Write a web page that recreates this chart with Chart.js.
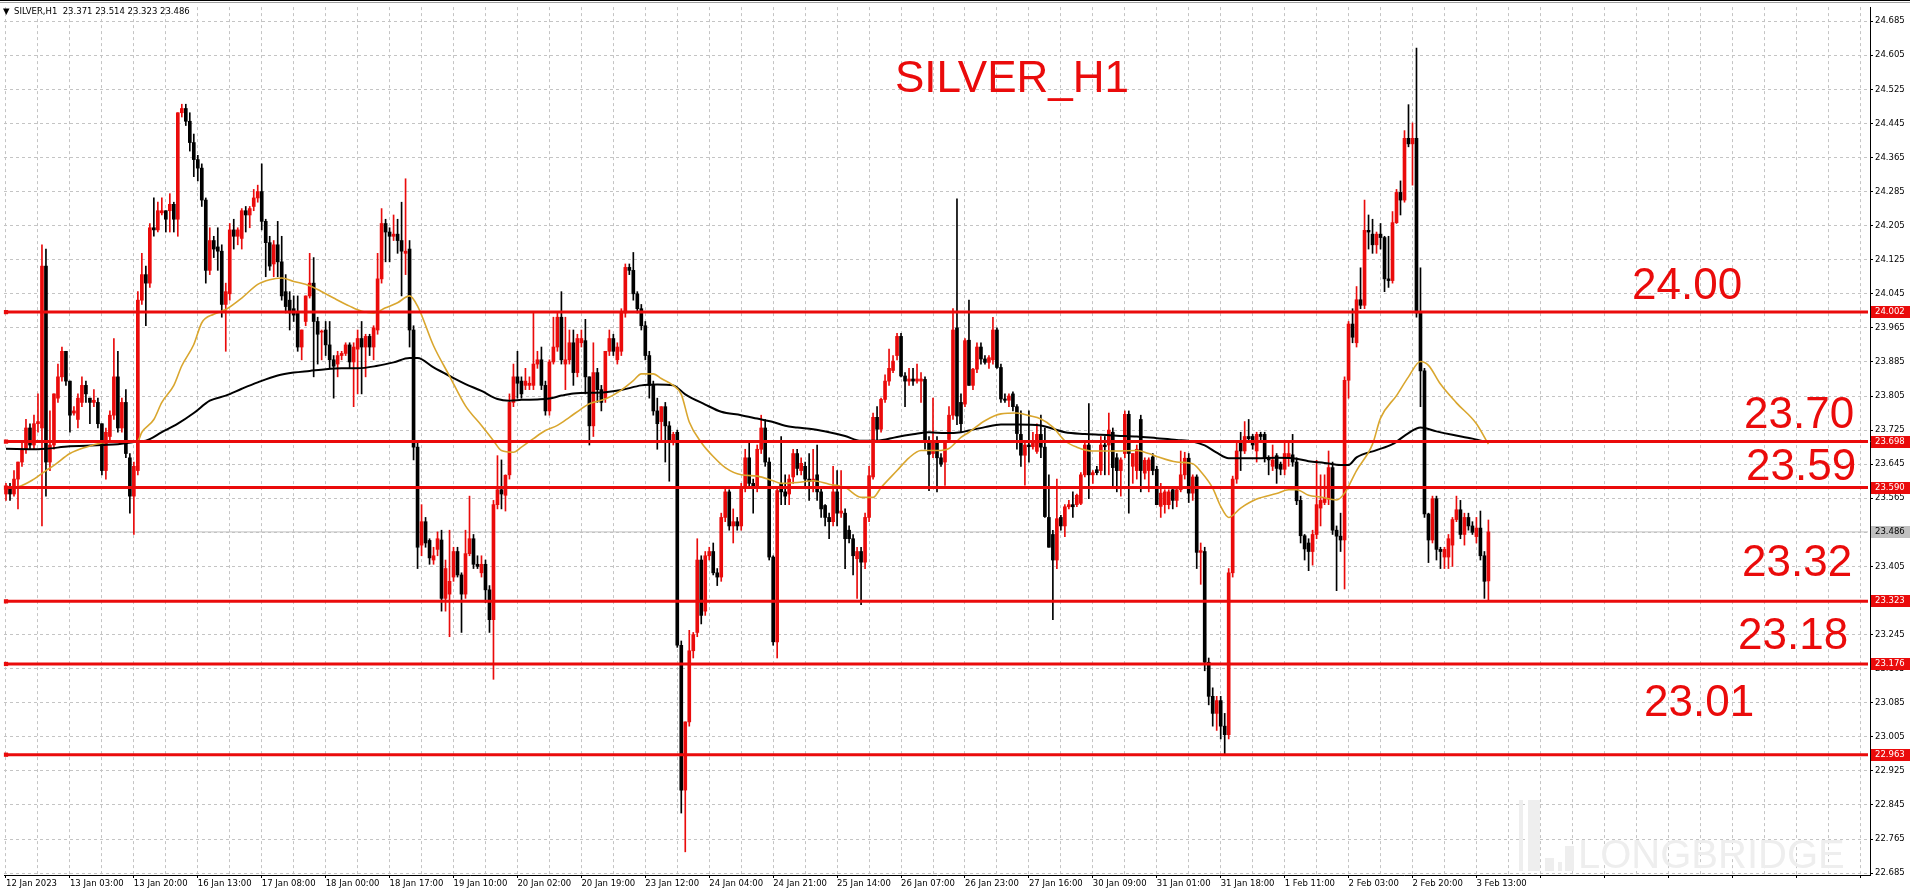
<!DOCTYPE html>
<html>
<head>
<meta charset="utf-8">
<script src="https://cdn.jsdelivr.net/npm/chart.js@4.4.0/dist/chart.umd.min.js"></script>
<style>
  html, body { margin: 0; padding: 0; background: #fff; overflow: hidden; }
  #wrap { width: 1910px; height: 893px; }
</style>
</head>
<body>
<div id="wrap"><canvas id="chart" width="1910" height="893"></canvas></div>
<script>
// x axis captions, one every 16 hourly bars
const timeLabels = ['12 Jan 2023', '13 Jan 03:00', '13 Jan 20:00', '16 Jan 13:00', '17 Jan 08:00', '18 Jan 00:00',
  '18 Jan 17:00', '19 Jan 10:00', '20 Jan 02:00', '20 Jan 19:00', '23 Jan 12:00', '24 Jan 04:00', '24 Jan 21:00',
  '25 Jan 14:00', '26 Jan 07:00', '26 Jan 23:00', '27 Jan 16:00', '30 Jan 09:00', '31 Jan 01:00', '31 Jan 18:00',
  '1 Feb 11:00', '2 Feb 03:00', '2 Feb 20:00', '3 Feb 13:00'];

const priceTicks = [24.685, 24.605, 24.525, 24.445, 24.365, 24.285, 24.205, 24.125, 24.045, 23.965, 23.885, 23.805,
  23.725, 23.645, 23.565, 23.485, 23.405, 23.325, 23.245, 23.165, 23.085, 23.005, 22.925, 22.845, 22.765, 22.685];

const levels = [24.002, 23.698, 23.590, 23.323, 23.176, 22.963];
const levelNames = ['24.00', '23.70', '23.59', '23.32', '23.18', '23.01'];
const bidPrice = 23.486;

// hourly candles, 12 Jan 2023 .. 3 Feb 2023 16:00
const opens = [
  23.575, 23.59, 23.575, 23.61, 23.65, 23.68, 23.73, 23.69, 23.74, 23.73,
  24.11, 23.65, 23.69, 23.80, 23.85, 23.91, 23.84, 23.765, 23.75, 23.79,
  23.83, 23.80, 23.79, 23.79, 23.74, 23.63, 23.71, 23.76, 23.85, 23.73,
  23.79, 23.66, 23.57, 23.63, 24.03, 24.09, 24.07, 24.20, 24.195, 24.235,
  24.24, 24.24, 24.255, 24.22, 24.47, 24.48, 24.45, 24.40, 24.36, 24.34,
  24.265, 24.10, 24.17, 24.155, 24.145, 24.02, 24.045, 24.195, 24.18, 24.175,
  24.24, 24.23, 24.25, 24.27, 24.285, 24.215, 24.165, 24.115, 24.16, 24.12,
  24.05, 24.03, 24.01, 24.00, 23.92, 23.98, 24.04, 24.07, 23.98, 23.955,
  23.96, 23.925, 23.89, 23.88, 23.90, 23.905, 23.925, 23.885, 23.915, 23.94,
  23.92, 23.945, 23.92, 23.96, 24.08, 24.21, 24.19, 24.18, 24.185, 24.17,
  24.14, 24.15, 23.96, 23.685, 23.455, 23.51, 23.466, 23.42, 23.445, 23.467,
  23.33, 23.34, 23.38, 23.44, 23.385, 23.34, 23.435, 23.47, 23.41, 23.39,
  23.41, 23.35, 23.28, 23.55, 23.585, 23.572, 23.62, 23.79, 23.85, 23.84,
  23.83, 23.83, 23.83, 23.88, 23.89, 23.83, 23.77, 23.885, 23.92, 23.99,
  23.88, 23.89, 23.93, 23.86, 23.93, 23.935, 23.85, 23.735, 23.86, 23.82,
  23.80, 23.91, 23.94, 23.89, 23.91, 24.00, 24.107, 24.10, 24.045, 24.01,
  23.97, 23.90, 23.83, 23.77, 23.745, 23.78, 23.735, 23.70, 23.72, 23.22,
  22.88, 23.04, 23.207, 23.25, 23.42, 23.30, 23.43, 23.44, 23.39, 23.38,
  23.52, 23.58, 23.50, 23.51, 23.50, 23.59, 23.66, 23.60, 23.59, 23.68,
  23.73, 23.65, 23.427, 23.228, 23.60, 23.58, 23.575, 23.615, 23.67, 23.63,
  23.64, 23.61, 23.605, 23.62, 23.58, 23.548, 23.52, 23.51, 23.58, 23.53,
  23.53, 23.49, 23.47, 23.423, 23.44, 23.415, 23.52, 23.615, 23.755, 23.727,
  23.797, 23.84, 23.865, 23.90, 23.945, 23.852, 23.84, 23.845, 23.84, 23.84,
  23.844, 23.70, 23.67, 23.70, 23.66, 23.65, 23.703, 23.76, 23.965, 23.79,
  23.786, 23.936, 23.83, 23.868, 23.92, 23.892, 23.884, 23.89, 23.96, 23.872,
  23.798, 23.795, 23.81, 23.78, 23.715, 23.666, 23.69, 23.686, 23.675, 23.715,
  23.685, 23.52, 23.48, 23.42, 23.52, 23.50, 23.545, 23.55, 23.55, 23.553,
  23.62, 23.69, 23.62, 23.632, 23.63, 23.69, 23.69, 23.72, 23.66, 23.63,
  23.67, 23.762, 23.64, 23.63, 23.75, 23.624, 23.63, 23.662, 23.633, 23.546,
  23.55, 23.55, 23.585, 23.56, 23.585, 23.62, 23.659, 23.577, 23.615, 23.438,
  23.44, 23.18, 23.10, 23.06, 23.09, 23.03, 23.01, 23.39, 23.61, 23.70,
  23.676, 23.71, 23.71, 23.676, 23.715, 23.715, 23.66, 23.64, 23.665, 23.645,
  23.633, 23.66, 23.667, 23.65, 23.56, 23.477, 23.46, 23.44, 23.48, 23.542,
  23.555, 23.563, 23.637, 23.49, 23.476, 23.467, 23.842, 23.974, 23.93, 24.031,
  24.018, 24.194, 24.185, 24.16, 24.185, 24.177, 24.08, 24.076, 24.212, 24.283,
  24.265, 24.41, 24.397, 24.41, 24.00, 23.864, 23.528, 23.467, 23.564, 23.445,
  23.427, 23.427, 23.455, 23.515, 23.538, 23.48, 23.52, 23.50, 23.475, 23.495,
  23.43, 23.371
];
const highs = [
  23.60, 23.60, 23.63, 23.65, 23.70, 23.75, 23.74, 23.76, 23.81, 24.16,
  24.15, 23.77, 23.81, 23.88, 23.92, 23.91, 23.84, 23.78, 23.81, 23.85,
  23.84, 23.80, 23.82, 23.80, 23.74, 23.73, 23.77, 23.94, 23.91, 23.80,
  23.82, 23.67, 23.65, 24.05, 24.14, 24.11, 24.21, 24.27, 24.26, 24.27,
  24.24, 24.28, 24.26, 24.47, 24.49, 24.49, 24.47, 24.42, 24.37, 24.35,
  24.27, 24.20, 24.18, 24.20, 24.16, 24.07, 24.21, 24.22, 24.20, 24.245,
  24.25, 24.25, 24.29, 24.30, 24.35, 24.22, 24.18, 24.17, 24.215, 24.18,
  24.09, 24.05, 24.04, 24.04, 23.96, 24.04, 24.14, 24.13, 23.99, 23.96,
  23.98, 23.98, 23.90, 23.91, 23.91, 23.93, 23.93, 23.93, 23.96, 23.98,
  23.95, 23.95, 23.97, 24.14, 24.245, 24.22, 24.20, 24.23, 24.22, 24.26,
  24.315, 24.17, 23.97, 23.70, 23.55, 23.52, 23.47, 23.45, 23.486, 23.49,
  23.42, 23.49, 23.45, 23.45, 23.39, 23.49, 23.57, 23.48, 23.43, 23.43,
  23.42, 23.36, 23.56, 23.665, 23.655, 23.62, 23.81, 23.88, 23.91, 23.85,
  23.87, 23.85, 24.00, 23.91, 23.92, 23.84, 23.89, 23.99, 24.00, 24.05,
  23.99, 23.96, 23.96, 23.95, 23.96, 23.985, 23.85, 23.93, 23.87, 23.83,
  23.91, 23.96, 23.95, 23.93, 24.01, 24.115, 24.115, 24.142, 24.05, 24.02,
  23.98, 23.91, 23.84, 23.80, 23.78, 23.79, 23.745, 23.72, 23.725, 23.23,
  23.04, 23.255, 23.25, 23.47, 23.43, 23.44, 23.45, 23.46, 23.40, 23.53,
  23.59, 23.585, 23.54, 23.52, 23.60, 23.68, 23.70, 23.61, 23.69, 23.76,
  23.75, 23.66, 23.43, 23.59, 23.71, 23.62, 23.62, 23.68, 23.68, 23.66,
  23.65, 23.67, 23.68, 23.69, 23.59, 23.55, 23.53, 23.64, 23.63, 23.63,
  23.54, 23.50, 23.48, 23.45, 23.45, 23.53, 23.64, 23.765, 23.78, 23.80,
  23.855, 23.915, 23.90, 23.952, 23.952, 23.86, 23.87, 23.87, 23.88, 23.86,
  23.85, 23.71, 23.80, 23.71, 23.67, 23.70, 23.78, 24.01, 24.268, 23.81,
  23.94, 24.03, 23.87, 23.93, 23.93, 23.90, 23.90, 23.99, 23.965, 23.88,
  23.81, 23.81, 23.815, 23.785, 23.77, 23.70, 23.77, 23.72, 23.74, 23.76,
  23.73, 23.62, 23.49, 23.61, 23.525, 23.55, 23.56, 23.58, 23.575, 23.625,
  23.695, 23.787, 23.63, 23.64, 23.71, 23.71, 23.765, 23.73, 23.67, 23.66,
  23.77, 23.77, 23.67, 23.69, 23.76, 23.66, 23.66, 23.67, 23.64, 23.60,
  23.585, 23.585, 23.59, 23.59, 23.676, 23.673, 23.67, 23.62, 23.62, 23.46,
  23.45, 23.19, 23.12, 23.10, 23.10, 23.06, 23.40, 23.617, 23.694, 23.72,
  23.745, 23.75, 23.715, 23.72, 23.72, 23.72, 23.665, 23.69, 23.67, 23.65,
  23.70, 23.70, 23.715, 23.66, 23.57, 23.48, 23.47, 23.49, 23.654, 23.62,
  23.62, 23.676, 23.65, 23.50, 23.53, 23.85, 23.98, 24.01, 24.062, 24.106,
  24.265, 24.23, 24.22, 24.19, 24.21, 24.18, 24.18, 24.238, 24.29, 24.31,
  24.428, 24.489, 24.446, 24.622, 24.106, 23.87, 23.53, 23.57, 23.57, 23.45,
  23.45, 23.48, 23.52, 23.57, 23.56, 23.53, 23.53, 23.51, 23.52, 23.535,
  23.44, 23.514
];
const lows = [
  23.56, 23.56, 23.57, 23.54, 23.64, 23.67, 23.68, 23.68, 23.72, 23.50,
  23.57, 23.63, 23.68, 23.79, 23.84, 23.83, 23.72, 23.76, 23.73, 23.78,
  23.79, 23.74, 23.78, 23.73, 23.62, 23.61, 23.70, 23.75, 23.72, 23.72,
  23.66, 23.53, 23.48, 23.62, 24.02, 23.97, 24.06, 24.18, 24.19, 24.23,
  24.19, 24.19, 24.19, 24.18, 24.46, 24.44, 24.38, 24.32, 24.31, 24.25,
  24.07, 24.09, 24.13, 24.10, 23.99, 23.91, 24.03, 24.15, 24.16, 24.15,
  24.19, 24.20, 24.24, 24.26, 24.195, 24.085, 24.10, 24.085, 24.085, 24.03,
  24.00, 23.96, 23.98, 23.91, 23.89, 23.97, 24.035, 23.85, 23.88, 23.89,
  23.90, 23.87, 23.80, 23.85, 23.89, 23.90, 23.87, 23.78, 23.81, 23.81,
  23.85, 23.90, 23.89, 23.95, 24.07, 24.12, 24.12, 24.17, 24.14, 24.04,
  24.09, 23.92, 23.655, 23.40, 23.43, 23.45, 23.41, 23.41, 23.43, 23.30,
  23.30, 23.24, 23.37, 23.38, 23.25, 23.33, 23.43, 23.40, 23.40, 23.38,
  23.32, 23.25, 23.14, 23.54, 23.54, 23.535, 23.61, 23.78, 23.80, 23.80,
  23.82, 23.82, 23.82, 23.87, 23.82, 23.76, 23.76, 23.88, 23.91, 23.88,
  23.82, 23.88, 23.83, 23.85, 23.92, 23.81, 23.69, 23.71, 23.79, 23.77,
  23.79, 23.90, 23.90, 23.88, 23.90, 23.99, 24.09, 24.03, 24.00, 23.96,
  23.89, 23.80, 23.76, 23.68, 23.70, 23.65, 23.605, 23.69, 23.215, 22.826,
  22.735, 23.03, 23.19, 23.24, 23.27, 23.29, 23.42, 23.385, 23.36, 23.37,
  23.51, 23.49, 23.46, 23.49, 23.49, 23.58, 23.59, 23.53, 23.58, 23.67,
  23.64, 23.42, 23.22, 23.19, 23.55, 23.55, 23.55, 23.60, 23.62, 23.62,
  23.59, 23.56, 23.58, 23.56, 23.52, 23.50, 23.47, 23.50, 23.50, 23.52,
  23.40, 23.46, 23.385, 23.33, 23.315, 23.40, 23.51, 23.61, 23.70, 23.72,
  23.79, 23.83, 23.86, 23.89, 23.85, 23.78, 23.83, 23.83, 23.835, 23.79,
  23.68, 23.583, 23.66, 23.58, 23.64, 23.595, 23.70, 23.75, 23.738, 23.72,
  23.78, 23.83, 23.82, 23.86, 23.88, 23.88, 23.87, 23.88, 23.87, 23.79,
  23.79, 23.78, 23.77, 23.68, 23.64, 23.596, 23.65, 23.68, 23.67, 23.66,
  23.52, 23.45, 23.28, 23.40, 23.49, 23.475, 23.54, 23.52, 23.545, 23.55,
  23.615, 23.564, 23.60, 23.62, 23.62, 23.62, 23.62, 23.59, 23.58, 23.57,
  23.66, 23.53, 23.60, 23.61, 23.58, 23.61, 23.58, 23.62, 23.55, 23.52,
  23.53, 23.54, 23.54, 23.545, 23.58, 23.61, 23.555, 23.56, 23.40, 23.363,
  23.16, 23.08, 23.03, 23.02, 23.00, 22.963, 23.00, 23.38, 23.60, 23.63,
  23.67, 23.70, 23.68, 23.65, 23.70, 23.65, 23.62, 23.63, 23.60, 23.62,
  23.62, 23.64, 23.64, 23.55, 23.46, 23.42, 23.395, 23.408, 23.47, 23.50,
  23.55, 23.55, 23.48, 23.348, 23.44, 23.352, 23.80, 23.93, 23.92, 24.01,
  24.01, 24.15, 24.14, 24.14, 24.15, 24.05, 24.06, 24.07, 24.21, 24.23,
  24.26, 24.39, 24.30, 23.99, 23.78, 23.52, 23.414, 23.46, 23.42, 23.40,
  23.40, 23.40, 23.405, 23.51, 23.47, 23.455, 23.49, 23.48, 23.46, 23.42,
  23.33, 23.323
];
const closes = [
  23.59, 23.575, 23.61, 23.65, 23.68, 23.73, 23.69, 23.74, 23.745, 24.11,
  23.65, 23.69, 23.81, 23.85, 23.91, 23.84, 23.76, 23.77, 23.80, 23.83,
  23.81, 23.79, 23.795, 23.74, 23.63, 23.72, 23.76, 23.85, 23.73, 23.79,
  23.67, 23.57, 23.64, 24.03, 24.09, 24.07, 24.20, 24.195, 24.24, 24.24,
  24.22, 24.255, 24.22, 24.47, 24.48, 24.45, 24.40, 24.36, 24.34, 24.265,
  24.10, 24.17, 24.15, 24.145, 24.02, 24.05, 24.195, 24.18, 24.195, 24.24,
  24.23, 24.245, 24.27, 24.285, 24.215, 24.165, 24.11, 24.16, 24.12, 24.04,
  24.015, 24.00, 23.995, 23.92, 23.96, 24.04, 24.07, 23.98, 23.95, 23.957,
  23.925, 23.89, 23.875, 23.90, 23.905, 23.925, 23.885, 23.92, 23.94, 23.92,
  23.945, 23.92, 23.965, 24.08, 24.21, 24.19, 24.18, 24.185, 24.17, 24.145,
  24.145, 23.96, 23.685, 23.45, 23.51, 23.46, 23.425, 23.43, 23.47, 23.33,
  23.40, 23.37, 23.44, 23.385, 23.34, 23.435, 23.47, 23.41, 23.405, 23.41,
  23.35, 23.28, 23.55, 23.585, 23.575, 23.619, 23.79, 23.85, 23.835, 23.81,
  23.84, 23.835, 23.88, 23.89, 23.83, 23.77, 23.885, 23.92, 23.99, 23.89,
  23.89, 23.93, 23.86, 23.94, 23.94, 23.85, 23.735, 23.86, 23.82, 23.79,
  23.91, 23.94, 23.91, 23.92, 24.00, 24.107, 24.10, 24.045, 24.01, 23.97,
  23.90, 23.83, 23.77, 23.74, 23.78, 23.735, 23.70, 23.715, 23.22, 22.88,
  23.04, 23.207, 23.245, 23.42, 23.29, 23.43, 23.44, 23.39, 23.38, 23.52,
  23.58, 23.50, 23.51, 23.50, 23.59, 23.66, 23.60, 23.59, 23.68, 23.73,
  23.65, 23.427, 23.228, 23.583, 23.58, 23.57, 23.61, 23.67, 23.635, 23.647,
  23.61, 23.605, 23.61, 23.58, 23.54, 23.52, 23.51, 23.58, 23.53, 23.535,
  23.47, 23.47, 23.43, 23.44, 23.415, 23.52, 23.618, 23.755, 23.727, 23.797,
  23.84, 23.87, 23.887, 23.945, 23.852, 23.84, 23.845, 23.84, 23.845, 23.845,
  23.70, 23.668, 23.70, 23.66, 23.645, 23.70, 23.76, 23.96, 23.758, 23.74,
  23.935, 23.83, 23.868, 23.92, 23.892, 23.884, 23.895, 23.96, 23.872, 23.798,
  23.795, 23.805, 23.78, 23.717, 23.666, 23.69, 23.686, 23.695, 23.715, 23.685,
  23.522, 23.45, 23.42, 23.517, 23.50, 23.545, 23.55, 23.545, 23.572, 23.62,
  23.69, 23.62, 23.625, 23.625, 23.69, 23.686, 23.725, 23.637, 23.63, 23.655,
  23.762, 23.67, 23.67, 23.68, 23.63, 23.654, 23.655, 23.63, 23.55, 23.577,
  23.58, 23.58, 23.56, 23.585, 23.62, 23.659, 23.577, 23.615, 23.438, 23.442,
  23.18, 23.10, 23.06, 23.09, 23.03, 23.01, 23.39, 23.61, 23.676, 23.676,
  23.71, 23.705, 23.69, 23.715, 23.71, 23.66, 23.655, 23.655, 23.635, 23.633,
  23.67, 23.67, 23.65, 23.559, 23.477, 23.446, 23.44, 23.48, 23.55, 23.56,
  23.565, 23.637, 23.49, 23.476, 23.467, 23.842, 23.974, 23.943, 24.031, 24.018,
  24.194, 24.19, 24.16, 24.185, 24.177, 24.08, 24.076, 24.212, 24.283, 24.265,
  24.41, 24.397, 24.41, 24.00, 23.864, 23.528, 23.467, 23.564, 23.445, 23.44,
  23.445, 23.47, 23.515, 23.538, 23.48, 23.52, 23.50, 23.485, 23.495, 23.43,
  23.37, 23.486
];

// moving averages at these bar numbers
const fastMaBars = [0, 3, 7, 10, 12, 16, 20, 24, 28, 31, 33, 34, 37, 39, 42, 44, 47, 49, 52, 55, 59, 63, 66, 69, 72,
  76, 78, 82, 86, 89, 92, 95, 98, 101, 103, 107, 111, 115, 119, 122, 124, 127, 129, 132, 135, 138, 141, 144, 146,
  150, 154, 157, 159, 162, 164, 167, 169, 171, 174, 177, 180, 184, 188, 192, 194, 198, 202, 206, 210, 214, 217,
  219, 223, 226, 229, 233, 236, 239, 241, 245, 249, 253, 256, 259, 262, 265, 268, 272, 275, 278, 283, 286, 288,
  293, 297, 299, 302, 304, 306, 309, 313, 318, 321, 323, 326, 329, 333, 335, 338, 342, 344, 348, 351, 354, 356,
  359, 363, 368, 371];
const fastMa = [23.59, 23.592, 23.61, 23.63, 23.642, 23.67, 23.685, 23.695, 23.70, 23.698, 23.70, 23.72, 23.75,
  23.79, 23.83, 23.876, 23.926, 23.977, 23.997, 24.008, 24.035, 24.067, 24.078, 24.082, 24.074, 24.064, 24.055,
  24.035, 24.016, 24.004, 24.00, 24.012, 24.024, 24.04, 24.016, 23.923, 23.852, 23.782, 23.736, 23.70, 23.677,
  23.673, 23.685, 23.705, 23.724, 23.736, 23.755, 23.775, 23.787, 23.798, 23.819, 23.841, 23.857, 23.857, 23.846,
  23.83, 23.809, 23.744, 23.696, 23.663, 23.637, 23.62, 23.617, 23.606, 23.60, 23.602, 23.606, 23.598, 23.59,
  23.567, 23.567, 23.59, 23.63, 23.66, 23.677, 23.677, 23.682, 23.708, 23.72, 23.747, 23.763, 23.765, 23.759,
  23.751, 23.732, 23.70, 23.685, 23.676, 23.676, 23.676, 23.677, 23.67, 23.663, 23.65, 23.646, 23.628, 23.589,
  23.546, 23.52, 23.542, 23.563, 23.576, 23.585, 23.585, 23.572, 23.568, 23.561, 23.577, 23.63, 23.692, 23.753,
  23.806, 23.85, 23.886, 23.877, 23.833, 23.789, 23.74, 23.692];

const slowMaBars = [0, 8, 10, 16, 20, 24, 28, 32, 35, 39, 43, 47, 51, 55, 59, 63, 68, 72, 76, 80, 84, 88, 93, 97,
  101, 103, 107, 111, 115, 119, 123, 126, 129, 133, 136, 139, 142, 150, 154, 159, 163, 167, 170, 175, 179, 184,
  188, 192, 195, 198, 202, 206, 210, 214, 218, 223, 227, 231, 235, 239, 241, 245, 249, 253, 259, 262, 265, 270,
  274, 278, 283, 288, 293, 297, 300, 303, 306, 309, 313, 318, 322, 326, 330, 334, 336, 338, 343, 347, 351, 354,
  358, 362, 367, 371];
const slowMa = [23.681, 23.68, 23.681, 23.687, 23.688, 23.69, 23.692, 23.697, 23.70, 23.72, 23.74, 23.765, 23.794,
  23.806, 23.822, 23.837, 23.853, 23.86, 23.864, 23.868, 23.87, 23.87, 23.876, 23.884, 23.894, 23.894, 23.872,
  23.852, 23.833, 23.817, 23.798, 23.794, 23.796, 23.797, 23.799, 23.806, 23.811, 23.814, 23.819, 23.83, 23.832,
  23.83, 23.809, 23.785, 23.768, 23.76, 23.752, 23.744, 23.735, 23.731, 23.727, 23.72, 23.711, 23.70, 23.70,
  23.709, 23.715, 23.72, 23.718, 23.72, 23.724, 23.732, 23.738, 23.738, 23.736, 23.728, 23.72, 23.716, 23.714,
  23.712, 23.71, 23.706, 23.702, 23.698, 23.689, 23.672, 23.659, 23.659, 23.659, 23.66, 23.659, 23.652, 23.648,
  23.643, 23.643, 23.661, 23.678, 23.692, 23.718, 23.731, 23.722, 23.714, 23.705, 23.696];

const RED = '#ea0b0b';
const SLOTS = 467;   // bar slots across the plot, the right part stays empty
const AXIS_FONT = { family: 'DejaVu Sans', size: 8.5 };

const slotLabels = Array.from({ length: SLOTS }, (_, i) => String(i));
const candleColors = closes.map((c, i) => (c >= opens[i] ? RED : '#000'));

function maPoints(bars, values) {
  return bars.map((b, i) => ({ x: String(b), y: values[i] }));
}

const lastSlot = String(SLOTS - 1);
const levelSets = levels.map(v => ({
  type: 'line',
  data: [{ x: '0', y: v }, { x: lastSlot, y: v }],
  borderColor: RED,
  backgroundColor: RED,
  borderWidth: 3,
  pointStyle: 'rect',
  pointRadius: [3, 0],
  pointBorderWidth: 0,
  order: 0
}));

const overlay = {
  id: 'overlay',
  beforeDatasetsDraw(chart) {
    // faint watermark: bar logo plus name
    const ctx = chart.ctx;
    ctx.save();
    ctx.fillStyle = '#eeeeee';
    [[1519, 800, 4, 71], [1528, 800, 12, 71], [1545, 858, 9, 13], [1558, 862, 4, 9], [1565, 846, 9, 25]]
      .forEach(r => ctx.fillRect(r[0], r[1], r[2], r[3]));
    ctx.font = '40px "Liberation Sans", sans-serif';
    ctx.textBaseline = 'alphabetic';
    ctx.fillText('LONGBRIDGE', 1578, 868);
    ctx.restore();
  },
  afterDraw(chart) {
    const ctx = chart.ctx;
    const y = chart.scales.y;
    ctx.save();

    // window frame
    ctx.fillStyle = '#000';
    ctx.fillRect(0, 0, 1910, 1);
    ctx.fillStyle = '#a0a0a0';
    ctx.fillRect(0, 2, 1910, 1);

    // header line
    ctx.fillStyle = '#000';
    ctx.font = '8.5px "DejaVu Sans"';
    ctx.textBaseline = 'middle';
    ctx.fillText('\u25BC', 3, 12);
    ctx.fillText('SILVER,H1  23.371 23.514 23.323 23.486', 14, 12);

    // title and level captions
    ctx.fillStyle = RED;
    ctx.font = '44px "Liberation Sans", Arial, sans-serif';
    ctx.fillText('SILVER_H1', 895, 80);
    const captionX = [1632, 1744, 1746, 1742, 1738, 1644];
    const captionAt = [24.061, 23.758, 23.636, 23.410, 23.239, 23.082];
    levelNames.forEach((t, i) => {
      ctx.fillText(t, captionX[i], y.getPixelForValue(captionAt[i]));
    });

    // price boxes on the scale
    ctx.font = '8.5px "DejaVu Sans"';
    const bidY = Math.round(y.getPixelForValue(bidPrice));
    ctx.fillStyle = '#c0c0c0';
    ctx.fillRect(1871, bidY - 6, 39, 12);
    ctx.fillStyle = '#000';
    ctx.fillText(bidPrice.toFixed(3), 1875, bidY);
    levels.forEach(v => {
      const py = Math.round(y.getPixelForValue(v));
      ctx.fillStyle = RED;
      ctx.fillRect(1871, py - 6, 39, 12);
      ctx.fillStyle = '#fff';
      ctx.fillText(v.toFixed(3), 1875, py);
    });
    ctx.restore();
  }
};

new Chart(document.getElementById('chart'), {
  type: 'bar',
  data: {
    labels: slotLabels,
    datasets: [
      ...levelSets,
      {
        type: 'line',
        data: maPoints(fastMaBars, fastMa),
        borderColor: '#d9a62e',
        borderWidth: 1.6,
        pointRadius: 0,
        cubicInterpolationMode: 'monotone',
        order: 1
      },
      {
        type: 'line',
        data: maPoints(slowMaBars, slowMa),
        borderColor: '#000',
        borderWidth: 2,
        pointRadius: 0,
        cubicInterpolationMode: 'monotone',
        order: 1
      },
      {
        data: opens.map((o, i) => [o, closes[i]]),
        backgroundColor: candleColors,
        barThickness: 3,
        minBarLength: 1,
        grouped: false,
        order: 2
      },
      {
        data: lows.map((l, i) => [Math.min(l, opens[i], closes[i]), Math.max(highs[i], opens[i], closes[i])]),
        backgroundColor: candleColors,
        barThickness: 1,
        grouped: false,
        order: 3
      },
      {
        type: 'line',
        data: [{ x: '0', y: bidPrice }, { x: lastSlot, y: bidPrice }],
        borderColor: '#c0c0c0',
        borderWidth: 1,
        pointRadius: 0,
        order: 4
      }
    ]
  },
  options: {
    responsive: false,
    animation: false,
    layout: { padding: { top: 3, left: 0, right: 0, bottom: 0 } },
    plugins: { legend: { display: false }, tooltip: { enabled: false } },
    scales: {
      x: {
        type: 'category',
        offset: true,
        afterBuildTicks: s => { s.ticks = s.ticks.filter(t => t.value % 8 === 0); },
        afterFit: s => { s.height = 18; },
        ticks: {
          autoSkip: false,
          maxRotation: 0,
          align: 'start',
          padding: 1,
          color: '#000',
          font: AXIS_FONT,
          callback: v => (v % 16 === 0 && timeLabels[v / 16]) ? timeLabels[v / 16] : ''
        },
        grid: {
          offset: false,
          color: '#c4c4c4',
          tickLength: 3,
          tickColor: c => (c.tick && c.tick.value % 16 === 0) ? '#000' : 'rgba(0,0,0,0)'
        },
        border: { display: true, color: '#000', width: 1, dash: [3, 3] }
      },
      y: {
        position: 'right',
        min: 22.6806,
        max: 24.718,
        afterBuildTicks: s => { s.ticks = priceTicks.map(v => ({ value: v })); },
        afterFit: s => { s.width = 40; },
        ticks: {
          padding: 2,
          color: '#000',
          font: AXIS_FONT,
          callback: v => v.toFixed(3)
        },
        grid: { color: '#c4c4c4', tickLength: 3, tickColor: '#000' },
        border: { display: true, color: '#000', width: 1, dash: [3, 3] }
      }
    }
  },
  plugins: [overlay]
});
</script>
</body>
</html>
